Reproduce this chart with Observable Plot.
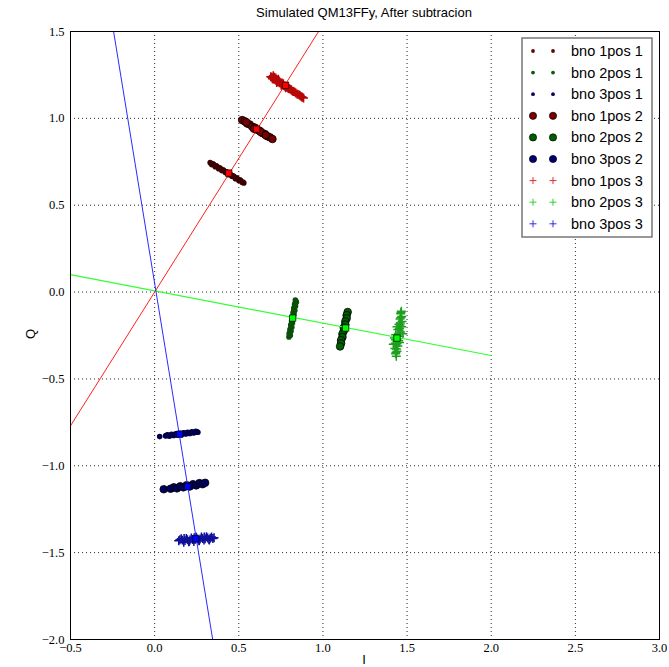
<!DOCTYPE html>
<html><head><meta charset="utf-8">
<script src="https://cdn.jsdelivr.net/npm/d3@7"></script>
<script src="https://cdn.jsdelivr.net/npm/@observablehq/plot@0.6"></script>
<style>
body{margin:0;background:#fff;}
#wrap{position:relative;width:669px;height:667px;overflow:hidden;}
.ov{position:absolute;font-family:"Liberation Sans",Arial,sans-serif;color:#000;white-space:nowrap;}
</style>
</head><body><div id="wrap"></div>
<script>
// ---- axis ticks ----
const xTicks = [-0.5, 0, 0.5, 1.0, 1.5, 2.0, 2.5, 3.0];
const yTicks = [-2.0, -1.5, -1.0, -0.5, 0, 0.5, 1.0, 1.5];

// ---- legend labels ----
const legendLabels = ["bno 1pos 1","bno 2pos 1","bno 3pos 1","bno 1pos 2","bno 2pos 2","bno 3pos 2","bno 1pos 3","bno 2pos 3","bno 3pos 3"];

// ---- cluster points [I, Q] ----
const bno1pos1 = [[0.33,0.745],[0.34,0.733],[0.35,0.736],[0.36,0.722],[0.37,0.724],[0.38,0.710],[0.39,0.713],[0.40,0.699],[0.41,0.701],[0.42,0.688],[0.43,0.690],[0.44,0.676],[0.45,0.678],[0.46,0.665],[0.47,0.667],[0.48,0.653],[0.49,0.655],[0.50,0.642],[0.51,0.644],[0.52,0.631],[0.53,0.628],
  [0.345,0.738],[0.365,0.727],[0.385,0.715],[0.405,0.704],[0.425,0.692],[0.445,0.681],[0.465,0.669],[0.485,0.658],[0.505,0.646],[0.525,0.633]];
const bno2pos1 = [[0.836,-0.046],[0.842,-0.058],[0.832,-0.070],[0.837,-0.082],[0.827,-0.094],[0.833,-0.106],[0.823,-0.118],[0.828,-0.130],[0.818,-0.142],[0.824,-0.154],[0.814,-0.166],[0.819,-0.178],[0.809,-0.190],[0.815,-0.202],[0.805,-0.214],[0.810,-0.226],[0.800,-0.238],[0.806,-0.250],[0.798,-0.258],
  [0.839,-0.052],[0.835,-0.064],[0.834,-0.076],[0.830,-0.088],[0.829,-0.100],[0.826,-0.112],[0.825,-0.124],[0.821,-0.136],[0.820,-0.148],[0.817,-0.160],[0.816,-0.172],[0.812,-0.184],[0.811,-0.196],[0.808,-0.208],[0.807,-0.220],[0.803,-0.232],[0.802,-0.244]];
const bno3pos1 = [[0.030,-0.832],[0.065,-0.828],[0.077,-0.822],[0.089,-0.829],[0.101,-0.819],[0.113,-0.826],[0.125,-0.816],[0.137,-0.823],[0.149,-0.813],[0.161,-0.820],[0.173,-0.810],[0.185,-0.817],[0.197,-0.807],[0.209,-0.814],[0.221,-0.805],[0.233,-0.811],[0.245,-0.802],[0.257,-0.807],
  [0.071,-0.825],[0.083,-0.826],[0.095,-0.824],[0.107,-0.822],[0.119,-0.821],[0.131,-0.819],[0.143,-0.818],[0.155,-0.816],[0.167,-0.815],[0.179,-0.813],[0.191,-0.812],[0.203,-0.810],[0.215,-0.809],[0.227,-0.808],[0.239,-0.806],[0.251,-0.805]];
const bno1pos2 = [[0.52,0.990],[0.535,0.983],[0.55,0.970],[0.565,0.965],[0.58,0.952],[0.595,0.947],[0.61,0.934],[0.625,0.928],[0.64,0.915],[0.655,0.910],[0.67,0.897],[0.685,0.891],[0.70,0.881],[0.545,0.978],[0.59,0.940],[0.63,0.922],[0.66,0.903]];
const bno2pos2 = [[1.147,-0.115],[1.141,-0.133],[1.141,-0.151],[1.133,-0.169],[1.133,-0.187],[1.124,-0.205],[1.124,-0.223],[1.116,-0.241],[1.116,-0.259],[1.108,-0.277],[1.108,-0.295],[1.102,-0.313]];
const bno3pos2 = [[0.054,-1.135],[0.095,-1.132],[0.114,-1.124],[0.133,-1.130],[0.152,-1.118],[0.171,-1.124],[0.190,-1.112],[0.209,-1.119],[0.228,-1.106],[0.247,-1.113],[0.266,-1.100],[0.285,-1.106],[0.300,-1.098]];
const bno1pos3 = [[0.690,1.240],[0.703,1.234],[0.716,1.222],[0.729,1.217],[0.742,1.205],[0.755,1.201],[0.768,1.188],[0.781,1.184],[0.794,1.172],[0.807,1.168],[0.820,1.156],[0.833,1.151],[0.846,1.140],[0.859,1.135],[0.872,1.124],[0.885,1.117],
  [0.700,1.228],[0.712,1.236],[0.725,1.206],[0.740,1.215],[0.752,1.190],[0.765,1.200],[0.778,1.176],[0.790,1.185],
  [0.696,1.236],[0.709,1.226],[0.722,1.219],[0.735,1.209],[0.748,1.203],[0.761,1.193],[0.774,1.186],[0.787,1.178],[0.800,1.170],[0.813,1.162],[0.826,1.154],[0.839,1.146],[0.852,1.138],[0.865,1.130],[0.878,1.121],
  [0.705,1.245],[0.720,1.232],[0.735,1.225]];
const bno2pos3 = [[1.466,-0.110],[1.462,-0.125],[1.468,-0.140],[1.458,-0.155],[1.470,-0.170],[1.452,-0.185],[1.468,-0.200],[1.445,-0.215],[1.462,-0.230],[1.432,-0.245],[1.455,-0.255],[1.425,-0.265],[1.450,-0.280],[1.430,-0.295],[1.445,-0.310],[1.428,-0.325],[1.440,-0.340],[1.432,-0.355],[1.436,-0.370],[1.440,-0.200],[1.475,-0.240],[1.418,-0.300],
  [1.464,-0.118],[1.463,-0.148],[1.460,-0.178],[1.455,-0.208],[1.450,-0.238],[1.445,-0.268],[1.440,-0.298],[1.437,-0.328],[1.434,-0.348],[1.458,-0.190],[1.432,-0.275],[1.455,-0.290]];
const bno3pos3 = [[0.143,-1.432],[0.158,-1.420],[0.173,-1.440],[0.188,-1.418],[0.203,-1.438],[0.218,-1.415],[0.233,-1.436],[0.248,-1.412],[0.263,-1.432],[0.278,-1.410],[0.293,-1.428],[0.308,-1.408],[0.323,-1.424],[0.338,-1.410],[0.353,-1.414],[0.165,-1.428],[0.195,-1.426],[0.225,-1.424],[0.255,-1.422],[0.285,-1.418],[0.315,-1.416],
  [0.150,-1.426],[0.180,-1.430],[0.210,-1.427],[0.240,-1.425],[0.270,-1.421],[0.300,-1.420],[0.330,-1.417],[0.346,-1.418],[0.175,-1.418],[0.205,-1.436],[0.235,-1.414],[0.265,-1.430],[0.295,-1.410],[0.325,-1.428]];

// ---- cluster centres ----
const redCenters = [[0.44,0.685],[0.606,0.938],[0.778,1.19]];
const greenCenters = [[0.82,-0.15],[1.135,-0.207],[1.44,-0.265]];
const blueCenters = [[0.149,-0.818],[0.196,-1.12],[0.244,-1.42]];

// ---- fitted lines (endpoints) ----
const redLine = [[-0.5,-0.77],[1.0,1.54]];
const greenLine = [[-0.5,0.10],[2.0,-0.365]];
const blueLine = [[-0.244,1.5],[0.345,-2.0]];

// ---- styles ----
const series = [
  {label:"bno 1pos 1", pts:bno1pos1, kind:1, color:"#3a0000"},
  {label:"bno 2pos 1", pts:bno2pos1, kind:1, color:"#0b4f0b"},
  {label:"bno 3pos 1", pts:bno3pos1, kind:1, color:"#00004a"},
  {label:"bno 1pos 2", pts:bno1pos2, kind:2, color:"#7a0000"},
  {label:"bno 2pos 2", pts:bno2pos2, kind:2, color:"#006000"},
  {label:"bno 3pos 2", pts:bno3pos2, kind:2, color:"#000060"},
  {label:"bno 1pos 3", pts:bno1pos3, kind:3, color:"#b80606"},
  {label:"bno 2pos 3", pts:bno2pos3, kind:3, color:"#1f9f1f"},
  {label:"bno 3pos 3", pts:bno3pos3, kind:3, color:"#10109a"}
];
const legendColors = ["#5a0a0a","#0a5a0a","#0a0a5a","#7a0000","#006000","#000070","#e03030","#30d030","#3030e0"];

const X = d => d[0], Y = d => d[1];
function dotMark(s) {
  if (s.kind === 1) return Plot.dot(s.pts, {x:X, y:Y, r:2.8, fill:s.color, stroke:"none"});
  if (s.kind === 2) return Plot.dot(s.pts, {x:X, y:Y, r:3.8, fill:s.color, stroke:"#000", strokeWidth:0.8});
  return Plot.dot(s.pts, {x:X, y:Y, symbol:"plus", r:3.0, stroke:s.color, strokeWidth:1.5, fill:"none"});
}

const fmt = d3.format(".1f");
const chart = Plot.plot({
  width: 669, height: 667,
  marginLeft: 70, marginRight: 10, marginTop: 31, marginBottom: 28,
  style: {fontFamily: "'Liberation Serif', 'Times New Roman', serif", fontSize: "12.5px", color: "#000", background: "#fff"},
  x: {domain: [-0.5, 3.0], ticks: xTicks, tickFormat: fmt, tickSize: 0, tickPadding: 4, label: null},
  y: {domain: [-2.0, 1.5], ticks: yTicks, tickFormat: fmt, tickSize: 0, tickPadding: 6, label: null},
  marks: [
    Plot.ruleX(xTicks, {stroke: "#000", strokeWidth: 1, strokeDasharray: "1,3", strokeOpacity: 0.85}),
    Plot.ruleY(yTicks, {stroke: "#000", strokeWidth: 1, strokeDasharray: "1,3", strokeOpacity: 0.85}),
    ...series.map(dotMark),
    Plot.line(redLine, {x:X, y:Y, stroke:"#ff2020", strokeWidth:1, clip:true}),
    Plot.line(greenLine, {x:X, y:Y, stroke:"#33ff33", strokeWidth:1.2, clip:true}),
    Plot.line(blueLine, {x:X, y:Y, stroke:"#2a2aff", strokeWidth:1, clip:true}),
    Plot.dot(redCenters, {x:X, y:Y, symbol:"square", r:3.6, fill:"#ff0000", stroke:"#000", strokeWidth:0.7}),
    Plot.dot(greenCenters, {x:X, y:Y, symbol:"square", r:3.6, fill:"#00ff00", stroke:"#000", strokeWidth:0.7}),
    Plot.dot(blueCenters, {x:X, y:Y, symbol:"square", r:3.6, fill:"#0000ff", stroke:"#000", strokeWidth:0.7}),
    Plot.frame({stroke: "#000", strokeWidth: 1})
  ]
});
const wrap = document.getElementById("wrap");
wrap.appendChild(chart);

// ---- overlays: title, axis labels ----
function addText(txt, css) {
  const d = document.createElement("div");
  d.className = "ov"; d.textContent = txt;
  Object.assign(d.style, css);
  wrap.appendChild(d);
  return d;
}
addText("Simulated QM13FFy, After subtracion", {left:"364px", top:"5px", fontSize:"13px", transform:"translateX(-50%)"});
addText("I", {left:"364px", top:"652px", fontSize:"13px", transform:"translateX(-50%)"});
addText("Q", {left:"30px", top:"334px", fontSize:"13px", transform:"translate(-50%,-50%) rotate(-90deg)"});

// ---- legend ----
const lg = d3.select(wrap).append("svg")
  .style("position","absolute").style("left","521px").style("top","37px")
  .attr("width",132).attr("height",202);
lg.append("rect").attr("x",1).attr("y",1).attr("width",130).attr("height",199)
  .attr("fill","#fff").attr("stroke","#777").attr("stroke-width",1.5);
legendLabels.forEach((lab, i) => {
  const s = series[i];
  const cy = 14 + i * 21.6;
  [12, 32].forEach(cx => {
    if (s.kind === 1) lg.append("circle").attr("cx",cx).attr("cy",cy).attr("r",1.9).attr("fill",legendColors[i]);
    else if (s.kind === 2) lg.append("circle").attr("cx",cx).attr("cy",cy).attr("r",3.6).attr("fill",legendColors[i]).attr("stroke","#000").attr("stroke-width",0.7);
    else lg.append("path").attr("d",`M${cx-3.5},${cy}H${cx+3.5}M${cx},${cy-3.5}V${cy+3.5}`).attr("stroke",legendColors[i]).attr("stroke-width",1);
  });
  lg.append("text").attr("x",50).attr("y",cy).attr("dy","0.35em")
    .attr("font-family","'Liberation Sans', Arial, sans-serif").attr("font-size","14.5px").attr("fill","#000").text(lab);
});
</script>
</body></html>
